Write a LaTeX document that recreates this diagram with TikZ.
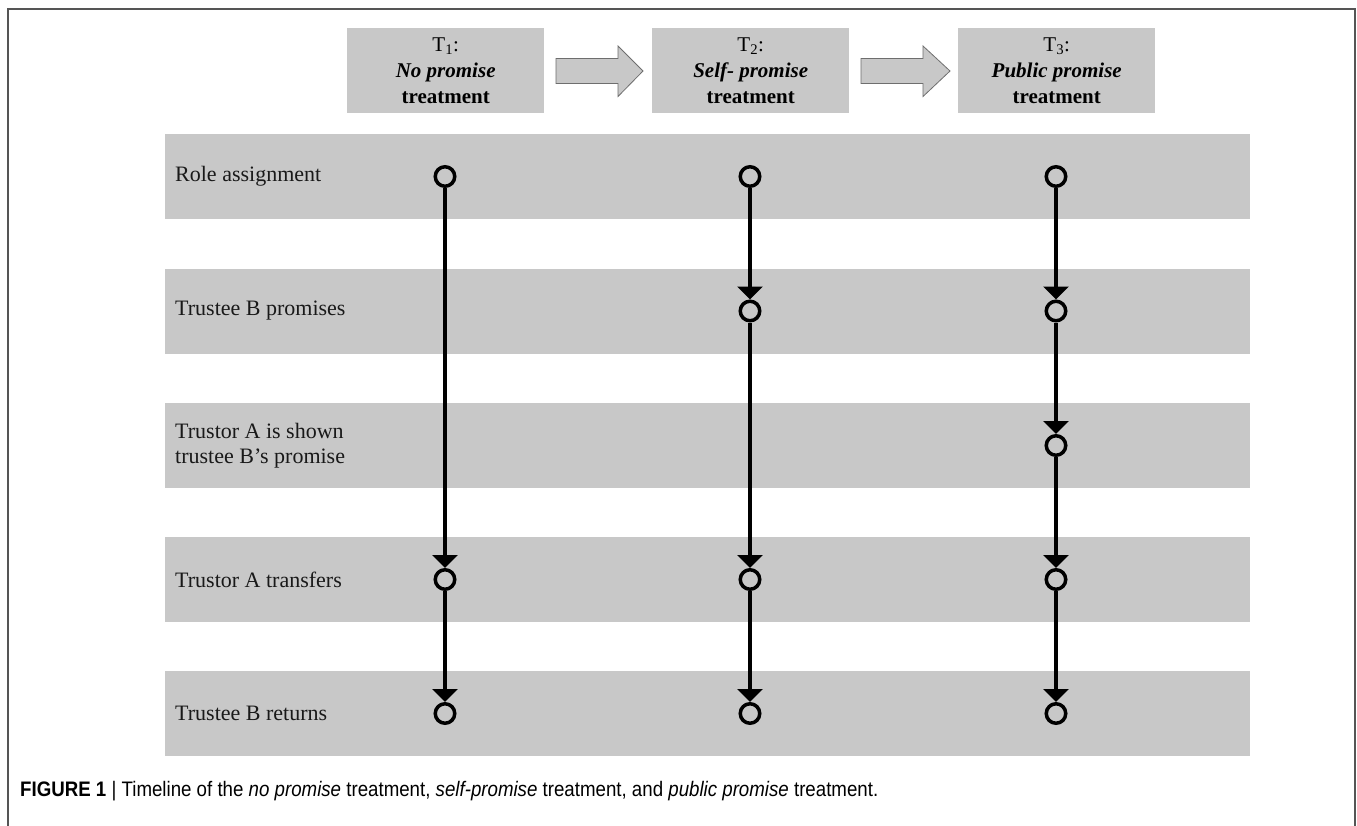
\documentclass[tikz,border=0pt]{standalone}
\usepackage{fontspec}
\setmainfont{Liberation Serif}
\newfontfamily\capfont{Liberation Sans}
\usetikzlibrary{arrows.meta}
\definecolor{band}{HTML}{C8C8C8}
\definecolor{frame}{HTML}{555555}
\definecolor{aredge}{HTML}{6E6E6E}
\begin{document}
\begin{tikzpicture}[x=1pt,y=-1pt,
  bandbox/.style={fill=band,draw=none,minimum width=1085pt,minimum height=85pt,inner sep=0pt,anchor=north west},
  headbox/.style={fill=band,draw=none,minimum width=197pt,minimum height=85pt,inner sep=0pt,anchor=north west,align=center,font=\fontsize{21}{26}\selectfont},
  rowlabel/.style={anchor=west,align=left,inner sep=0pt,font=\fontsize{22}{25}\selectfont,text=black!90},
  dot/.style={circle,draw=black,line width=3.5pt,minimum size=19.5pt,inner sep=0pt},
  flow/.style={line width=3.5pt,-{Triangle[width=25pt,length=13pt]}},
  blockarrow/.style={fill=band,draw=aredge,line width=0.8pt,line join=miter}]
\useasboundingbox (0,0) rectangle (1357,825);
\fill[white] (0,0) rectangle (1357,825);
% frame
\draw[frame,line width=2pt] (8,826) -- (8,9) -- (1355,9) -- (1355,826);
% header boxes
\node[headbox] (h1) at (347,28) {T\textsubscript{1}:\\ \textbf{\textit{No promise}}\\ \textbf{treatment}};
\node[headbox] (h2) at (652,28) {T\textsubscript{2}:\\ \textbf{\textit{Self- promise}}\\ \textbf{treatment}};
\node[headbox] (h3) at (958,28) {T\textsubscript{3}:\\ \textbf{\textit{Public promise}}\\ \textbf{treatment}};
% block arrows
\draw[blockarrow] (556,58.5) -- (618,58.5) -- (618,46) -- (643,71) -- (618,96.5) -- (618,83.5) -- (556,83.5) -- cycle;
\draw[blockarrow] (861,58.5) -- (923,58.5) -- (923,46) -- (950,71) -- (923,96.5) -- (923,83.5) -- (861,83.5) -- cycle;
% bands
\node[bandbox] (b1) at (165,134) {};
\node[bandbox] (b2) at (165,268.5) {};
\node[bandbox] (b3) at (165,403) {};
\node[bandbox] (b4) at (165,537) {};
\node[bandbox] (b5) at (165,671) {};
\node[rowlabel] (l1) at (175,176.5) {Role assignment};
\node[rowlabel] (l2) at (175,311) {Trustee B promises};
\node[rowlabel] (l3) at (175,445.5) {Trustor A is shown\\trustee B’s promise};
\node[rowlabel] (l4) at (175,579.5) {Trustor A transfers};
\node[rowlabel] (l5) at (175,713.5) {Trustee B returns};
% dots
\node[dot] (a1) at (445,176.5) {};
\node[dot] (a4) at (445,579.5) {};
\node[dot] (a5) at (445,713.5) {};
\node[dot] (c1) at (750,176.5) {};
\node[dot] (c2) at (750,311) {};
\node[dot] (c4) at (750,579.5) {};
\node[dot] (c5) at (750,713.5) {};
\node[dot] (d1) at (1056,176.5) {};
\node[dot] (d2) at (1056,311) {};
\node[dot] (d3) at (1056,445.5) {};
\node[dot] (d4) at (1056,579.5) {};
\node[dot] (d5) at (1056,713.5) {};
% connectors
\draw[flow] (a1) -- (a4);
\draw[flow] (a4) -- (a5);
\draw[flow] (c1) -- (c2);
\draw[flow] (c2) -- (c4);
\draw[flow] (c4) -- (c5);
\draw[flow] (d1) -- (d2);
\draw[flow] (d2) -- (d3);
\draw[flow] (d3) -- (d4);
\draw[flow] (d4) -- (d5);
% caption
\node[anchor=west,inner sep=0pt,font=\capfont\fontsize{21}{24}\selectfont] (cap) at (20,791)
  {\scalebox{0.89}[1]{\textbf{FIGURE 1} \textbar{} Timeline of the \textit{no promise} treatment, \textit{self-promise} treatment, and \textit{public promise} treatment.}};
\end{tikzpicture}
\end{document}
